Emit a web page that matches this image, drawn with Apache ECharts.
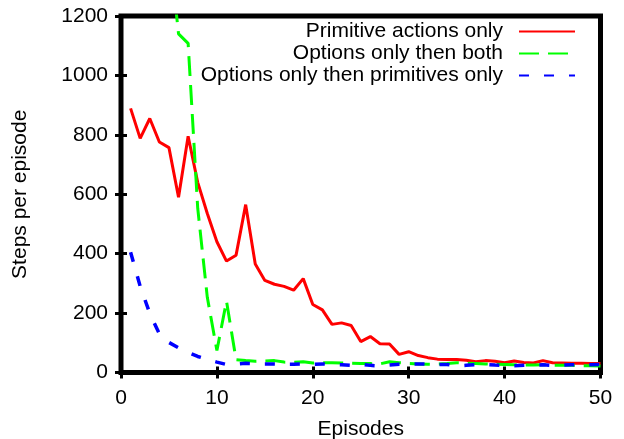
<!DOCTYPE html>
<html>
<head>
<meta charset="utf-8">
<script src="https://cdn.jsdelivr.net/npm/echarts@6/dist/echarts.min.js"></script>
<style>
html,body{margin:0;padding:0;background:#fff;}
#chart{width:624px;height:439px;}
</style>
</head>
<body>
<div id="chart"></div>
<script>
var episodes = [];
for (var i = 1; i <= 50; i++) episodes.push(i);

var seriesNames = ['Primitive actions only', 'Options only then both', 'Options only then primitives only'];

var primitiveOnly = [889, 788, 855, 776, 757, 590, 795, 640, 535, 440,
  375, 395, 565, 365, 310, 297, 290, 277, 316, 229,
  211, 162, 167, 158, 104, 121, 97, 96, 61, 70,
  57, 50, 45, 44, 44, 41, 36, 40, 38, 33,
  39, 34, 32, 40, 33, 32, 31, 31, 30, 30];

var optionsThenBoth = [1700, 1650, 1600, 1550, 1440, 1140, 1108, 553, 253, 74,
  240, 43, 40, 38, 39, 40, 35, 34, 36, 32,
  33, 33, 32, 31, 30, 30, 29, 36, 33, 30,
  29, 28, 28, 30, 33, 31, 30, 29, 28, 27,
  26, 25, 25, 26, 25, 24, 24, 23, 23, 22];

var optionsThenPrimitives = [405, 290, 199, 130, 101, 83, 68, 54, 44, 35,
  27, 28, 31, 30, 29, 29, 28, 28, 29, 27,
  29, 27, 26, 24, 28, 24, 22, 25, 28, 28,
  29, 28, 27, 27, 22, 24, 26, 27, 25, 24,
  23, 24, 25, 26, 24, 25, 26, 27, 26, 27];

var xTicks = [0, 10, 20, 30, 40, 50];
var yTicks = [0, 200, 400, 600, 800, 1000, 1200];

function pairs(vals) {
  return episodes.map(function (e, i) { return [e, vals[i]]; });
}

var FONT = 'Liberation Sans, Arial, Helvetica, sans-serif';
var FS = 21;
var chart = echarts.init(document.getElementById('chart'), null, {renderer: 'canvas'});

var tickStyle = {show: true, inside: true, length: 6, lineStyle: {color: '#000', width: 3}};

chart.setOption({
  animation: false,
  backgroundColor: '#fff',
  grid: {left: 121, right: 23.5, top: 16, bottom: 66.5, show: true,
         outerBoundsMode: 'none', containLabel: false,
         borderColor: '#000', borderWidth: 5, backgroundColor: 'transparent'},
  legend: {
    orient: 'vertical', right: 48, top: 21, align: 'right', padding: 0,
    itemWidth: 56, itemHeight: 10, itemGap: 1,
    selectedMode: false,
    itemStyle: {opacity: 0},
    textStyle: {fontSize: FS, fontFamily: FONT, color: '#000', lineHeight: 20, padding: [0, 11, 0, 0]},
    data: seriesNames
  },
  xAxis: [{
    type: 'value', min: xTicks[0], max: xTicks[xTicks.length - 1], interval: 10,
    name: 'Episodes', nameLocation: 'middle', nameGap: 46,
    nameTextStyle: {fontSize: FS, fontFamily: FONT, color: '#000'},
    axisLine: {show: false}, splitLine: {show: false},
    axisTick: tickStyle,
    axisLabel: {fontSize: FS, fontFamily: FONT, color: '#000', margin: 15}
  }, {
    type: 'value', position: 'top', min: xTicks[0], max: xTicks[xTicks.length - 1], interval: 10,
    axisLine: {show: false}, splitLine: {show: false},
    axisTick: tickStyle, axisLabel: {show: false}
  }],
  yAxis: [{
    type: 'value', min: yTicks[0], max: yTicks[yTicks.length - 1], interval: 200,
    name: 'Steps per episode', nameLocation: 'middle', nameGap: 90,
    nameTextStyle: {fontSize: FS, fontFamily: FONT, color: '#000'},
    axisLine: {show: false}, splitLine: {show: false},
    axisTick: tickStyle,
    axisLabel: {fontSize: FS, fontFamily: FONT, color: '#000', margin: 13,
                formatter: function (v) { return String(v); }}
  }, {
    type: 'value', position: 'right', min: yTicks[0], max: yTicks[yTicks.length - 1], interval: 200,
    axisLine: {show: false}, splitLine: {show: false},
    axisTick: tickStyle, axisLabel: {show: false}
  }],
  series: [{
    name: seriesNames[0], type: 'line', data: pairs(primitiveOnly),
    symbol: 'none', clip: true,
    lineStyle: {color: '#ff0000', width: 3},
    itemStyle: {color: '#ff0000'}
  }, {
    name: seriesNames[1], type: 'line', data: pairs(optionsThenBoth),
    symbol: 'none', clip: true,
    lineStyle: {color: '#00ff00', width: 3, type: [20, 9]},
    itemStyle: {color: '#00ff00'}
  }, {
    name: seriesNames[2], type: 'line', data: pairs(optionsThenPrimitives),
    symbol: 'none', clip: true,
    lineStyle: {color: '#0000ff', width: 3.5, type: [10, 15]},
    itemStyle: {color: '#0000ff'}
  }]
});
</script>
</body>
</html>
